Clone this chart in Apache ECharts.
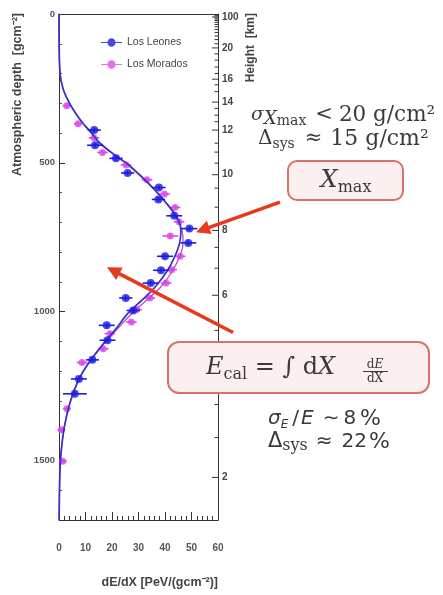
<!DOCTYPE html>
<html><head><meta charset="utf-8">
<script src="https://cdn.jsdelivr.net/npm/echarts@6/dist/echarts.min.js"></script>
<style>html,body{margin:0;padding:0;background:#fff}#c{width:443px;height:595px}</style>
</head><body><div id="c"></div>
<script>
// ---- data ----
const leonesDepth = [390,441,485,534,583,623,678,721,769,814,861,904,954,996,1046,1096,1162,1226,1276];
const leonesDEdX  = [13.3,13.6,21.5,25.9,37.7,37.5,43.5,49.2,48.8,40.0,38.5,34.6,25.2,28.0,18.0,18.3,12.6,7.5,6.0];
const leonesErr   = [2.5,3,2.5,2.5,2.5,2.5,3,3,3,3,3,3,2.5,2.5,3,3,2.5,3,4.5];
const moradosDepth = [308,369,416,465,507,557,605,650,698,746,814,859,904,954,993,1035,1074,1125,1171,1326,1397,1503];
const moradosDEdX  = [2.9,7.2,13.2,16.4,25.3,33.2,39.8,43.8,45.3,42.0,45.7,42.5,40.4,34.3,29.3,27.3,19.2,16.7,8.7,3.0,0.9,1.4];
const moradosErr   = [1.5,1.5,2,2,2,2,2,2,2,3,2,2,2,2,2,2,2,2,2,1.5,1.5,1.5];
const depthErr = 8;
const fitDepth   = [0,100,200,250,290,330,367,400,434,470,502,545,586,630,683,730,770,804,861,918,962,1006,1063,1108,1175,1231,1304,1388,1477,1550,1700];
const leonesFit  = [0,0.05,0.4,1.5,3.4,6,9,12.3,15.5,20.5,25.6,31,35.6,40,44.5,46,45.5,44.2,41,36.2,31.2,26,21,16.7,11,7.3,4.2,2,0.75,0.3,0.05];
const moradosFit = [0,0.05,0.4,1.5,3.4,6,9,12.2,15.3,20.3,25.3,30.8,35.5,40,44.5,46.5,46.8,46,43,38.3,33,27.5,21.5,17,11,7.3,4.2,2,0.75,0.3,0.05];
// depth axis tick labels
const depthTicks = [0,500,1000,1500];
// right (height) axis ticks, placed at atmospheric depth
const heightLabels = ['100','20','16','14','12','10','8','6','2'];
const heightLabelDepth = [10,114,219,296,390,540,727,945,1557];
const heightMinorDepth = [3,6,13,17,22,28,35,43,52,62,74,86,100,134,155,178,200,238,261,317,340,362,434,464,501,585,649,784,854,1063,1200,1312,1423];
// annotation arrows [tail dE/dX, tail depth, tip dE/dX, tip depth]
const arrows = [[83.4,632,51.7,733],[65.7,1070,18.1,851]];

const serif = 'DejaVu Serif', sans = 'DejaVu Sans';
const txt = '#3a3a3a';

function errItem(params, api){
  const x=api.value(0), d=api.value(1), e=api.value(2);
  const a=api.coord([x-e,d]), b=api.coord([x+e,d]), c=api.coord([x,d-depthErr]), f=api.coord([x,d+depthErr]);
  const style={stroke:api.visual('color'), lineWidth:1.6};
  return {type:'group', children:[
    {type:'line', shape:{x1:a[0],y1:a[1],x2:b[0],y2:b[1]}, style},
    {type:'line', shape:{x1:c[0],y1:c[1],x2:f[0],y2:f[1]}, style}]};
}
function tickItem(params, api){
  const p=api.coord([api.value(0),api.value(1)]);
  const major=api.value(3)===1;
  const ch=[{type:'line', shape:{x1:p[0]-(major?6:3.5),y1:p[1],x2:p[0],y2:p[1]}, style:{stroke:'#333',lineWidth:1}}];
  if(major){
    ch.push({type:'text', x:p[0]+4, y:p[1], style:{text:heightLabels[api.value(2)], fontSize:10, fontWeight:'bold', fontFamily:'Liberation Sans', fill:'#444', align:'left', verticalAlign:'middle'}});
  }
  return {type:'group', children:ch};
}
function arrowItem(params, api){
  const t=api.coord([api.value(0),api.value(1)]), h=api.coord([api.value(2),api.value(3)]);
  const dx=h[0]-t[0], dy=h[1]-t[1], L=Math.sqrt(dx*dx+dy*dy), ux=dx/L, uy=dy/L, nx=-uy, ny=ux;
  const hl=14, hw=7, bx=h[0]-ux*hl, by=h[1]-uy*hl;
  const col='#e8391f';
  return {type:'group', children:[
    {type:'line', shape:{x1:t[0],y1:t[1],x2:bx+ux*2,y2:by+uy*2}, style:{stroke:col,lineWidth:3.6}},
    {type:'polygon', shape:{points:[[h[0],h[1]],[bx+nx*hw,by+ny*hw],[bx-nx*hw,by-ny*hw]]}, style:{fill:col}}]};
}

const ticksData = heightLabelDepth.map((d,i)=>[60,d,i,1]).concat(heightMinorDepth.map(d=>[60,d,-1,0]));
const zip = (xs, ds, es) => ds.map((d,i)=> es ? [xs[i], d, es[i]] : [xs[i], d]);

const chart = echarts.init(document.getElementById('c'), null, {renderer:'canvas'});
const legendIcon = 'path://M0,4.4 L22,4.4 L22,5.6 L0,5.6 Z M11,0.6 C13.3,0.6 15.2,2.5 15.2,5 C15.2,7.5 13.3,9.4 11,9.4 C8.7,9.4 6.8,7.5 6.8,5 C6.8,2.5 8.7,0.6 11,0.6 Z';
chart.setOption({
  animation:false,
  backgroundColor:'#fff',
  grid:{left:59, right:225, top:14, bottom:75, containLabel:false},
  legend:{data:['Los Leones','Los Morados'], orient:'vertical', left:96, top:32, itemGap:11, itemWidth:21, itemHeight:9,
    icon:legendIcon, textStyle:{fontSize:10.5, color:'#444', fontFamily:'Liberation Sans'}},
  xAxis:[{type:'value', min:0, max:60, interval:10, position:'bottom',
      axisLine:{onZero:false, lineStyle:{color:'#333',width:1}}, axisTick:{inside:true,length:8,lineStyle:{color:'#333'}},
      minorTick:{show:true,splitNumber:5,length:4,lineStyle:{color:'#333'}},
      splitLine:{show:false}, axisLabel:{margin:23, fontSize:10, fontWeight:'bold', color:'#555', fontFamily:'Liberation Sans'}},
    {type:'value', min:0, max:60, position:'top', axisLine:{show:true,onZero:false,lineStyle:{color:'#333'}}, axisTick:{show:false}, axisLabel:{show:false}, splitLine:{show:false}}],
  yAxis:[{type:'value', min:0, max:1700, interval:500, inverse:true, position:'left',
      axisLine:{show:true,onZero:false,lineStyle:{color:'#333'}}, axisTick:{inside:true,length:6,lineStyle:{color:'#333'}},
      minorTick:{show:true,splitNumber:5,length:3,lineStyle:{color:'#555'}},
      splitLine:{show:false}, axisLabel:{margin:4, fontSize:9.5, fontWeight:'bold', color:'#555', fontFamily:'Liberation Sans',
        showMaxLabel:false, formatter:v=> depthTicks.indexOf(v)>=0 ? String(v) : ''}},
    {type:'value', min:0, max:1700, inverse:true, position:'right', axisLine:{show:true,onZero:false,lineStyle:{color:'#333'}},
      axisTick:{show:false}, axisLabel:{show:false}, splitLine:{show:false}}],
  series:[
    {type:'custom', name:'heightTicks', renderItem:tickItem, data:ticksData, clip:false, silent:true, z:1},
    {type:'custom', name:'Los Morados err', renderItem:errItem, data:zip(moradosDEdX,moradosDepth,moradosErr), itemStyle:{color:'#dd48ee'}, z:2},
    {type:'scatter', name:'Los Morados', data:zip(moradosDEdX,moradosDepth), symbol:'circle', symbolSize:7, itemStyle:{color:'#dd48ee'}, z:3},
    {type:'line', name:'Morados fit', data:zip(moradosFit,fitDepth), smooth:0.3, showSymbol:false, lineStyle:{color:'#c044d8',width:1.3}, z:4},
    {type:'line', name:'Leones fit', data:zip(leonesFit,fitDepth), smooth:0.3, showSymbol:false, lineStyle:{color:'#3434c8',width:1.7}, z:5},
    {type:'custom', name:'Los Leones err', renderItem:errItem, data:zip(leonesDEdX,leonesDepth,leonesErr), itemStyle:{color:'#1c1ce0'}, z:6},
    {type:'scatter', name:'Los Leones', data:zip(leonesDEdX,leonesDepth), symbol:'circle', symbolSize:8, itemStyle:{color:'#1c1ce0'}, z:7},
    {type:'custom', name:'arrows', renderItem:arrowItem, data:arrows, clip:false, silent:true, z:8}
  ],
  graphic:[
    {type:'text', x:18, y:13, rotation:Math.PI/2, style:{text:'Atmospheric depth  [gcm⁻²]', fontSize:12.5, fontWeight:'bold', fontFamily:'Liberation Sans', fill:'#444', align:'right', verticalAlign:'middle'}},
    {type:'text', x:251, y:13, rotation:Math.PI/2, style:{text:'Height  [km]', fontSize:12, fontWeight:'bold', fontFamily:'Liberation Sans', fill:'#444', align:'right', verticalAlign:'middle'}},
    {type:'text', x:218, y:583, style:{text:'dE/dX [PeV/(gcm⁻²)]', fontSize:12.5, fontWeight:'bold', fontFamily:'Liberation Sans', fill:'#444', align:'right', verticalAlign:'middle'}},
    {type:'text', x:251, y:115, z:20, style:{text:'{s|σ}{x|X}{m|max}{op|<}{t|20 g/cm²}', align:'left', verticalAlign:'middle', fill:txt,
      rich:{s:{fontFamily:serif,fontStyle:'italic',fontSize:19,lineHeight:26,fill:txt},
            x:{fontFamily:serif,fontStyle:'italic',fontSize:18,lineHeight:21,verticalAlign:'bottom',fill:txt},
            m:{fontFamily:serif,fontSize:14,lineHeight:13,verticalAlign:'bottom',fill:txt},
            op:{fontFamily:serif,fontSize:21,lineHeight:26,padding:[0,6,0,9],fill:txt},
            t:{fontFamily:serif,fontSize:21.5,lineHeight:26,fill:txt}}}},
    {type:'text', x:258, y:139, z:20, style:{text:'{d|Δ}{m|sys}{op|≈}{t|15 g/cm²}', align:'left', verticalAlign:'middle', fill:txt,
      rich:{d:{fontFamily:serif,fontSize:20,lineHeight:24,fill:txt},
            m:{fontFamily:serif,fontSize:14,lineHeight:12,verticalAlign:'bottom',fill:txt},
            op:{fontFamily:serif,fontSize:21,lineHeight:24,padding:[0,8,0,10],fill:txt},
            t:{fontFamily:serif,fontSize:22,lineHeight:24,fill:txt}}}},
    {type:'rect', z:20, shape:{x:288,y:161,width:115,height:39,r:9}, style:{fill:'#fcefef',stroke:'#d8726b',lineWidth:2}},
    {type:'text', x:346, y:181, z:21, style:{text:'{x|X}{m|max}', align:'center', verticalAlign:'middle',
      rich:{x:{fontFamily:serif,fontStyle:'italic',fontSize:24,lineHeight:30,fill:txt},
            m:{fontFamily:serif,fontSize:16,lineHeight:17,verticalAlign:'bottom',fill:txt}}}},
    {type:'rect', z:20, shape:{x:168,y:342,width:261,height:51,r:11}, style:{fill:'#fcefef',stroke:'#d8726b',lineWidth:2}},
    {type:'text', x:206, y:368, z:21, style:{text:'{e|E}{c|cal}{t| = ∫ d}{x|X}', align:'left', verticalAlign:'middle',
      rich:{e:{fontFamily:serif,fontStyle:'italic',fontSize:24,lineHeight:30,fill:txt},
            c:{fontFamily:serif,fontSize:16,lineHeight:18,verticalAlign:'bottom',fill:txt},
            t:{fontFamily:serif,fontSize:24,lineHeight:30,fill:txt},
            x:{fontFamily:serif,fontStyle:'italic',fontSize:24,lineHeight:30,fill:txt}}}},
    {type:'text', x:375, y:365, z:21, style:{text:'{d|d}{e|E}', align:'center', verticalAlign:'middle',
      rich:{d:{fontFamily:serif,fontSize:12,fill:txt}, e:{fontFamily:serif,fontStyle:'italic',fontSize:12,fill:txt}}}},
    {type:'line', z:21, shape:{x1:363,y1:371.5,x2:388,y2:371.5}, style:{stroke:txt,lineWidth:1}},
    {type:'text', x:375, y:379, z:21, style:{text:'dX', align:'center', verticalAlign:'middle', fontFamily:serif, fontSize:12, fill:txt}},
    {type:'text', x:268, y:419, z:20, style:{text:'{s|σ}{e|E}{sl|/}{s2|E}{op|∼}{t|8}{pc|%}', align:'left', verticalAlign:'middle',
      rich:{s:{fontFamily:sans,fontStyle:'italic',fontSize:20,lineHeight:24,fill:txt},
            e:{fontFamily:sans,fontStyle:'italic',fontSize:12,lineHeight:12,verticalAlign:'bottom',fill:txt},
            sl:{fontFamily:sans,fontSize:20,lineHeight:24,padding:[0,0,0,4],fill:txt},
            s2:{fontFamily:sans,fontStyle:'italic',fontSize:20,lineHeight:24,padding:[0,0,0,2],fill:txt},
            op:{fontFamily:sans,fontSize:20,lineHeight:24,padding:[0,4,0,9],fill:txt},
            t:{fontFamily:sans,fontSize:20,lineHeight:24,fill:txt},
            pc:{fontFamily:sans,fontSize:22,lineHeight:24,padding:[0,0,0,4],fill:txt}}}},
    {type:'text', x:268, y:442, z:20, style:{text:'{d|Δ}{m|sys}{op|≈}{t|22}{pc|%}', align:'left', verticalAlign:'middle',
      rich:{d:{fontFamily:sans,fontSize:21,lineHeight:24,fill:txt},
            m:{fontFamily:serif,fontSize:16,lineHeight:14,verticalAlign:'bottom',fill:txt},
            op:{fontFamily:sans,fontSize:20,lineHeight:24,padding:[0,9,0,8],fill:txt},
            t:{fontFamily:sans,fontSize:20,lineHeight:24,fill:txt},
            pc:{fontFamily:sans,fontSize:22,lineHeight:24,padding:[0,0,0,2],fill:txt}}}}
  ]
});
</script></body></html>
